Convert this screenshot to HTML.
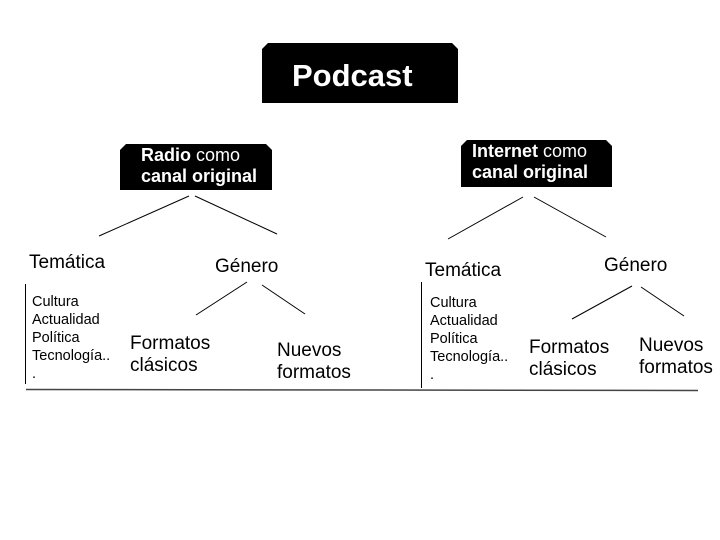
<!DOCTYPE html>
<html><head><meta charset="utf-8"><style>
body{margin:0;width:720px;height:540px;background:#fff;position:relative;overflow:hidden;font-family:"Liberation Sans",sans-serif;color:#000}
.t{position:absolute;white-space:nowrap}
.box{position:absolute;background:#000;color:#fff;clip-path:polygon(6px 0,calc(100% - 6px) 0,100% 6px,100% 100%,0 100%,0 6px)}
.s{font-size:14.5px;line-height:18px}
.m{font-size:19px;line-height:22px}
</style></head><body>
<div class="box" style="left:262px;top:43px;width:196px;height:60px"></div>
<div class="t" style="left:292px;top:58px;font-size:31px;font-weight:bold;color:#fff">Podcast</div>
<div class="box" style="left:120px;top:144px;width:152px;height:46px"></div>
<div class="t" style="left:141px;top:145px;font-size:18px;line-height:21px;color:#fff"><b>Radio</b> como<br><b>canal original</b></div>
<div class="box" style="left:461px;top:140px;width:151px;height:47px"></div>
<div class="t" style="left:472px;top:141px;font-size:18px;line-height:21px;color:#fff"><b>Internet</b> como<br><b>canal original</b></div>
<svg style="position:absolute;left:0;top:0" width="720" height="540">
<g stroke="#000" stroke-width="1" fill="none">
<line x1="189" y1="196" x2="99" y2="236"/><line x1="195" y1="196" x2="277" y2="234"/>
<line x1="523" y1="197" x2="448" y2="239"/><line x1="534" y1="197" x2="606" y2="237"/>
<line x1="247" y1="282" x2="196" y2="315"/><line x1="262" y1="285" x2="305" y2="314"/>
<line x1="632" y1="286" x2="572" y2="319"/><line x1="641" y1="287" x2="684" y2="316"/>
<line x1="25.5" y1="284" x2="25.5" y2="384"/><line x1="421.5" y1="282" x2="421.5" y2="388"/>
<line x1="26" y1="389.5" x2="698" y2="390.5" stroke="#444" stroke-width="1.5"/>
</g></svg>
<div class="t m" style="left:29px;top:252px">Temática</div>
<div class="t m" style="left:215px;top:256px">Género</div>
<div class="t s" style="left:32px;top:293px">Cultura<br>Actualidad<br>Política<br>Tecnología..<br>.</div>
<div class="t m" style="left:130px;top:333px">Formatos<br>clásicos</div>
<div class="t m" style="left:277px;top:340px">Nuevos<br>formatos</div>
<div class="t m" style="left:425px;top:260px">Temática</div>
<div class="t m" style="left:604px;top:255px">Género</div>
<div class="t s" style="left:430px;top:294px">Cultura<br>Actualidad<br>Política<br>Tecnología..<br>.</div>
<div class="t m" style="left:529px;top:337px">Formatos<br>clásicos</div>
<div class="t m" style="left:639px;top:335px">Nuevos<br>formatos</div>
</body></html>
